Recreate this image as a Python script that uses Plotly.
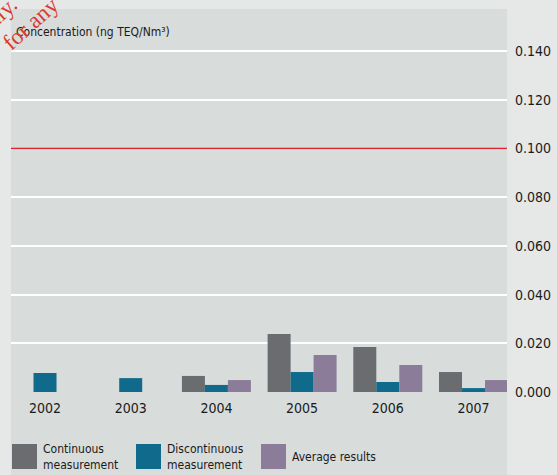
import plotly.graph_objects as go

years = ["2002", "2003", "2004", "2005", "2006", "2007"]
continuous = [None, None, 0.0066, 0.0238, 0.0185, 0.0082]
discontinuous = [0.0078, 0.0057, 0.0029, 0.0082, 0.0041, 0.0016]
average = [None, None, 0.0049, 0.0152, 0.0111, 0.0049]
limit_value = 0.100
y_ticks = [0.0, 0.02, 0.04, 0.06, 0.08, 0.10, 0.12, 0.14]
y_tick_labels = ["0.000", "0.020", "0.040", "0.060", "0.080", "0.100", "0.120", "0.140"]
series_names = ["Continuous<br>measurement", "Discontinuous<br>measurement", "Average results"]
colors = ["#6b6c70", "#0f6a8b", "#8b7c99"]

FONT = "Liberation Sans Narrow, DejaVu Sans Condensed, Arial Narrow, sans-serif"
PANEL = "#d8dcdb"
OUTER = "#e6e8e7"

fig = go.Figure()
for vals, name, col in zip([continuous, discontinuous, average], series_names, colors):
    fig.add_trace(go.Bar(x=years, y=vals, name=name, marker=dict(color=col, line=dict(width=0)),
                         showlegend=False))

W, H = 557, 475
ml, mr, mt, mb = 11, 50, 9, 83
pw, ph = W - ml - mr, H - mt - mb

def px(xp):
    return (xp - ml) / pw

def py(yp):
    return (H - mb - yp) / ph

shapes = [
    dict(type="rect", xref="paper", yref="paper", x0=px(11), x1=px(507), y0=py(475), y1=py(9),
         fillcolor=PANEL, line=dict(width=0), layer="below"),
    dict(type="line", xref="paper", yref="y", x0=0, x1=1, y0=limit_value, y1=limit_value,
         line=dict(color="#d9232e", width=1.5), layer="above"),
]

annotations = [
    dict(text="Concentration (ng TEQ/Nm³)", xref="paper", yref="paper", x=px(14), y=py(32),
         xanchor="left", yanchor="middle", showarrow=False,
         font=dict(family=FONT, size=12, color="#1a1a1a")),
    dict(text="for any", xref="paper", yref="paper", x=px(31), y=py(24),
         xanchor="center", yanchor="middle", showarrow=False, textangle=-42,
         font=dict(family="Liberation Serif, serif", size=23, color="#d93a2b")),
    dict(text="only.", xref="paper", yref="paper", x=px(-3), y=py(17),
         xanchor="center", yanchor="middle", showarrow=False, textangle=-42,
         font=dict(family="Liberation Serif, serif", size=23, color="#d93a2b")),
]

leg_x = [12, 136, 261]
for lx, name, col in zip(leg_x, series_names, colors):
    shapes.append(dict(type="rect", xref="paper", yref="paper", x0=px(lx), x1=px(lx + 25),
                       y0=py(469), y1=py(444), fillcolor=col, line=dict(width=0)))
    annotations.append(dict(text=name, xref="paper", yref="paper", x=px(lx + 29), y=py(456.5),
                            xanchor="left", yanchor="middle", align="left", showarrow=False,
                            font=dict(family=FONT, size=12, color="#1a1a1a")))

fig.update_layout(
    width=W, height=H,
    margin=dict(l=ml, r=mr, t=mt, b=mb, pad=0, autoexpand=False),
    paper_bgcolor=OUTER, plot_bgcolor="rgba(0,0,0,0)",
    barmode="group", bargap=0.195, bargroupgap=0,
    font=dict(family=FONT, size=14, color="#1a1a1a"),
    shapes=shapes, annotations=annotations,
    xaxis=dict(type="category", range=[-0.397, 5.391], showgrid=False, zeroline=False,
               showline=False, ticks="", automargin=False,
               tickfont=dict(family=FONT, size=14, color="#1a1a1a"),
               ticklabelstandoff=6),
    yaxis=dict(side="right", range=[0, 0.1573], tickvals=y_ticks, ticktext=y_tick_labels,
               showgrid=True, gridcolor="white", gridwidth=1.5, zeroline=False, showline=False,
               ticks="", ticklabelstandoff=7, automargin=False,
               tickfont=dict(family=FONT, size=14, color="#1a1a1a")),
)

fig.write_html("out.html")
